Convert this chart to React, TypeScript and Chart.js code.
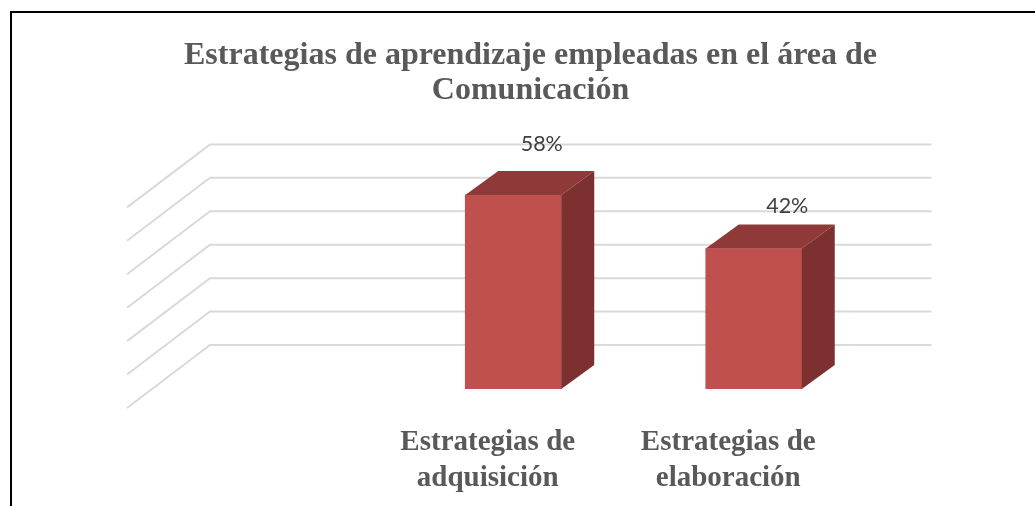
import React, { useEffect, useRef } from "react";
import { Chart, registerables } from "chart.js";

Chart.register(...registerables);

const titleLines = ["Estrategias de aprendizaje empleadas en el área de", "Comunicación"];
const categories = [[""], ["Estrategias de", "adquisición"], ["Estrategias de", "elaboración"]];
const seriesValues = [null, 58, 42];
const gridValues = [0, 10, 20, 30, 40, 50, 60];
const valueLabels = ["", "58%", "42%"];
const labelShift = [[0, 0], [28.5, -51], [33.5, -43]];

const AXIS_MAX = 73.05;
const WIDTH = 1035;
const HEIGHT = 506;
const WALL = { dx: 57.5, dy: 44 };
const FLOOR = { dx: 83, dy: 63 };
const BAR = { dx: 33, dy: 24 };

const scene3d = {
  id: "scene3d",
  beforeDatasetsDraw(chart: any) {
    const { ctx, chartArea, scales } = chart;
    const wallLeft = chartArea.left + WALL.dx;
    const wallRight = chartArea.right + WALL.dx;
    ctx.save();
    ctx.strokeStyle = "#D9D9D9";
    ctx.lineWidth = 2;
    ctx.lineJoin = "miter";
    for (const v of gridValues) {
      const y = scales.y.getPixelForValue(v) - WALL.dy;
      ctx.beginPath();
      ctx.moveTo(wallLeft - FLOOR.dx, y + FLOOR.dy);
      ctx.lineTo(wallLeft, y);
      ctx.lineTo(wallRight, y);
      ctx.stroke();
    }
    ctx.restore();
  },
  afterDatasetsDraw(chart: any) {
    const { ctx } = chart;
    const bars = chart.getDatasetMeta(0).data;
    ctx.save();
    bars.forEach((bar: any, i: number) => {
      if (seriesValues[i] == null) return;
      const left = bar.x - bar.width / 2;
      const right = bar.x + bar.width / 2;
      ctx.fillStyle = "#8F3A38";
      ctx.beginPath();
      ctx.moveTo(left, bar.y);
      ctx.lineTo(left + BAR.dx, bar.y - BAR.dy);
      ctx.lineTo(right + BAR.dx, bar.y - BAR.dy);
      ctx.lineTo(right, bar.y);
      ctx.closePath();
      ctx.fill();
      ctx.fillStyle = "#7C3030";
      ctx.beginPath();
      ctx.moveTo(right, bar.y);
      ctx.lineTo(right + BAR.dx, bar.y - BAR.dy);
      ctx.lineTo(right + BAR.dx, bar.base - BAR.dy);
      ctx.lineTo(right, bar.base);
      ctx.closePath();
      ctx.fill();
    });
    ctx.fillStyle = "#404040";
    ctx.font = "21.5px Lato";
    ctx.textAlign = "center";
    ctx.textBaseline = "middle";
    bars.forEach((bar: any, i: number) => {
      if (!valueLabels[i]) return;
      ctx.fillText(valueLabels[i], bar.x + labelShift[i][0], bar.y + labelShift[i][1]);
    });
    ctx.restore();
  },
};

export default function App() {
  const ref = useRef<HTMLCanvasElement>(null);
  useEffect(() => {
    document.body.style.margin = "0";
    document.body.style.background = "#ffffff";
    const chart = new Chart(ref.current!, {
      type: "bar",
      data: {
        labels: categories as any,
        datasets: [
          {
            data: seriesValues as any,
            backgroundColor: "#C0504D",
            barThickness: 96,
            borderWidth: 0,
          },
        ],
      },
      options: {
        responsive: false,
        animation: false,
        events: [],
        layout: { padding: { left: 26, right: 0, top: 0, bottom: 0 } },
        plugins: {
          legend: { display: false },
          tooltip: { enabled: false },
          title: {
            display: true,
            text: titleLines,
            color: "#595959",
            font: { family: "'Liberation Serif'", size: 32, weight: "bold", lineHeight: 1.09 },
            padding: { top: 38, bottom: 37 },
          },
        },
        scales: {
          x: {
            grid: { display: false },
            border: { display: false },
            ticks: {
              color: "#595959",
              font: { family: "'Liberation Serif'", size: 29, weight: "bold", lineHeight: 1.24 },
              padding: 28,
              labelOffset: -25.5,
              autoSkip: false,
              minRotation: 0,
              maxRotation: 0,
            },
            afterFit(scale: any) {
              scale.height = 117;
            },
          },
          y: {
            min: 0,
            max: AXIS_MAX,
            grid: { display: false },
            border: { display: false },
            ticks: { display: false },
            afterFit(scale: any) {
              scale.width = 126.5;
            },
          },
          yRight: {
            axis: "y",
            position: "right",
            min: 0,
            max: AXIS_MAX,
            grid: { display: false },
            border: { display: false },
            ticks: { display: false },
            afterFit(scale: any) {
              scale.width = 161;
            },
          },
        },
      },
      plugins: [scene3d],
    } as any);
    return () => chart.destroy();
  }, []);
  return (
    <div style={{ position: "fixed", left: 0, top: 0, width: WIDTH, height: HEIGHT, overflow: "hidden", background: "#fff" }}>
      <canvas ref={ref} width={WIDTH} height={HEIGHT} style={{ position: "absolute", left: 0, top: 0 }} />
      <div
        style={{
          position: "absolute",
          left: 10,
          top: 11,
          right: 0,
          bottom: 0,
          borderLeft: "2px solid #000",
          borderTop: "2px solid #000",
        }}
      />
    </div>
  );
}
